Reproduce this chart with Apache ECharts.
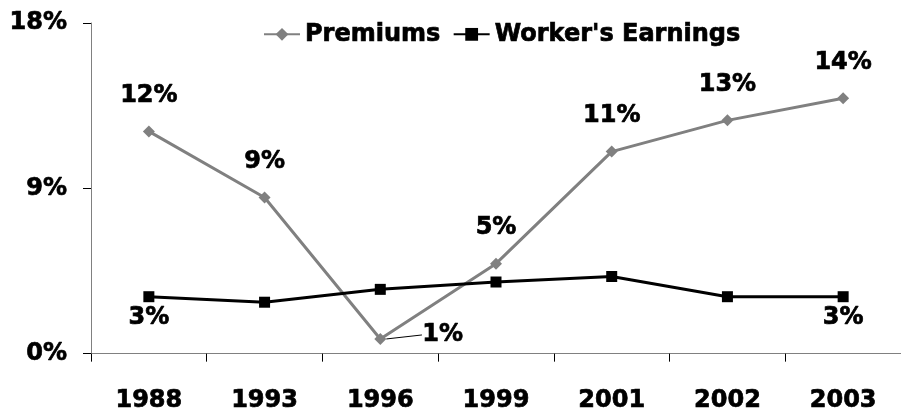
<!DOCTYPE html>
<html>
<head>
<meta charset="utf-8">
<script src="https://cdn.jsdelivr.net/npm/echarts@6/dist/echarts.min.js"></script>
<style>html,body{margin:0;padding:0;background:#fff}#c{width:901px;height:413px}</style>
</head>
<body>
<div id="c"></div>
<script>
var years = ['1988', '1993', '1996', '1999', '2001', '2002', '2003'];
var premiums = [12.1, 8.5, 0.8, 4.9, 11.0, 12.7, 13.9];
var earnings = [3.1, 2.8, 3.5, 3.9, 4.2, 3.1, 3.1];
var earningsLabeled = [true, false, false, false, false, false, true];
var premiumsLeader = [false, false, true, false, false, false, false];
var yTicks = [0, 9, 18];

var FONT = 'DejaVu Sans';
var fmt = function (p) { return Math.round(p.value) + '%'; };
var txt = { fontFamily: FONT, fontWeight: 'bold', fontSize: 24, color: '#000',
  textBorderColor: '#000', textBorderWidth: 0.7 };

var chart = echarts.init(document.getElementById('c'));
chart.setOption({
  animation: false,
  textStyle: { fontFamily: FONT },
  grid: { left: 91, width: 812, top: 23, bottom: 58 },
  legend: {
    left: 258, top: 17, itemWidth: 36, itemHeight: 16, itemGap: 12,
    textStyle: txt,
    data: ['Premiums', "Worker's Earnings"]
  },
  xAxis: {
    type: 'category', data: years, boundaryGap: true,
    axisLine: { lineStyle: { color: '#808080', width: 1 } },
    axisTick: { show: true, length: 8, interval: 0, lineStyle: { color: '#000' } },
    axisLabel: Object.assign({ margin: 35, interval: 0 }, txt)
  },
  yAxis: {
    type: 'value', min: yTicks[0], max: yTicks[2], interval: yTicks[1] - yTicks[0],
    splitLine: { show: false },
    axisLine: { show: true, lineStyle: { color: '#808080', width: 1 } },
    axisTick: { show: true, length: 8, lineStyle: { color: '#000' } },
    axisLabel: Object.assign({ margin: 24, formatter: '{value}%' }, txt)
  },
  series: [
    {
      name: 'Premiums', type: 'line',
      data: premiums.map(function (v, i) {
        return { value: v, labelLine: { show: premiumsLeader[i] } };
      }),
      symbol: 'diamond', symbolSize: 12,
      lineStyle: { color: '#808080', width: 3 },
      itemStyle: { color: '#808080' },
      label: Object.assign({ show: true, position: 'top', distance: 18, formatter: fmt }, txt),
      labelLine: { show: false, lineStyle: { color: '#000', width: 1 } },
      labelLayout: function (p) {
        if (premiumsLeader[p.dataIndex]) {
          return { x: p.rect.x + p.rect.width / 2 + 42, y: p.rect.y + p.rect.height / 2 - 4, align: 'left', verticalAlign: 'middle' };
        }
        return {};
      }
    },
    {
      name: "Worker's Earnings", type: 'line',
      data: earnings.map(function (v, i) {
        return { value: v, label: { show: earningsLabeled[i] } };
      }),
      symbol: 'rect', symbolSize: 11,
      lineStyle: { color: '#000', width: 3 },
      itemStyle: { color: '#000' },
      label: Object.assign({ position: 'bottom', distance: 4, formatter: fmt }, txt)
    }
  ]
});
</script>
</body>
</html>
